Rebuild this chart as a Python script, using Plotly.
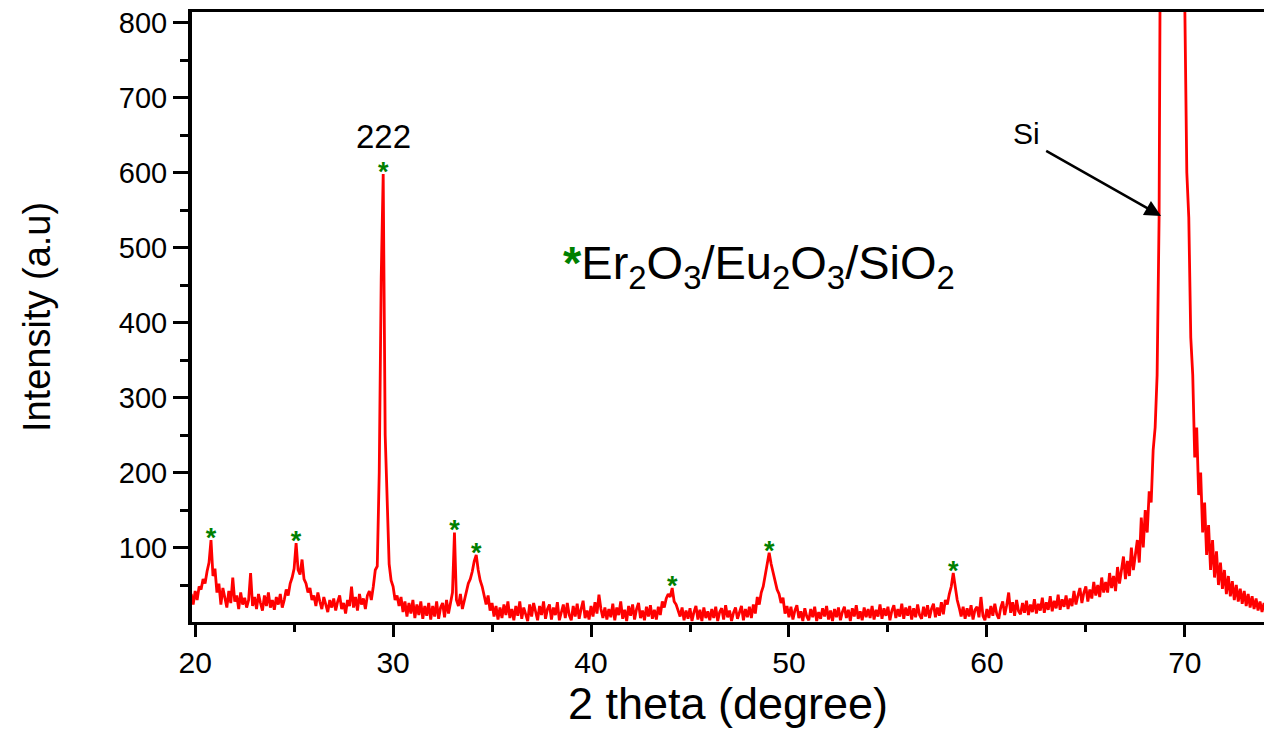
import numpy as np
import plotly.graph_objects as go

# XRD scan: 2-theta grid (start, step) and measured intensity (a.u.)
scan_start = 19.8
scan_step = 0.1
intensity = [
    38, 24,                                          # 19.8-19.9
    42, 30, 48, 44, 58, 52, 68, 80, 110, 62,         # 20
    72, 40, 52, 24, 46, 30, 20, 42, 26, 60,          # 21
    28, 36, 18, 40, 24, 33, 20, 30, 66, 22,          # 22
    34, 18, 38, 26, 16, 36, 22, 40, 20, 30,          # 23
    17, 34, 24, 38, 20, 30, 44, 36, 52, 60,          # 24
    72, 106, 70, 64, 84, 58, 52, 40, 46, 30,         # 25
    36, 22, 40, 28, 18, 34, 24, 14, 30, 20,          # 26
    32, 16, 28, 36, 18, 26, 12, 30, 22, 48,          # 27
    20, 34, 16, 38, 24, 32, 18, 36, 42, 30,          # 28
    48, 70, 75, 200, 460, 598, 250, 150, 78, 56,     # 29
    48, 30, 36, 22, 34, 14, 28, 8, 26, 12,           # 30
    30, 6, 24, 10, 28, 5, 22, 9, 26, 4,              # 31
    22, 8, 28, 5, 20, 26, 7, 30, 12, 26,             # 32
    40, 120, 30, 22, 38, 18, 30, 44, 52, 58,         # 33
    68, 82, 90, 70, 56, 48, 34, 24, 36, 16,          # 34
    26, 8, 22, 4, 20, 6, 24, 10, 28, 6,              # 35
    18, 3, 22, 9, 28, 5, 20, 12, 2, 24,              # 36
    8, 26, 12, 3, 22, 10, 28, 5, 18, 24,             # 37
    4, 20, 10, 27, 3, 16, 24, 6, 26, 10,             # 38
    3, 22, 8, 25, 5, 18, 29, 6, 16, 4,               # 39
    22, 8, 27, 12, 37, 18, 6, 20, 4, 18,             # 40
    7, 25, 3, 20, 10, 28, 5, 17, 2, 22,              # 41
    9, 24, 4, 18, 26, 6, 16, 3, 21, 8,               # 42
    23, 5, 17, 4, 21, 10, 28, 20, 32, 38,            # 43
    34, 46, 28, 24, 16, 8, 20, 3, 16, 5,             # 44
    19, 2, 14, 22, 4, 17, 2, 20, 6, 15,              # 45
    3, 18, 6, 21, 2, 14, 19, 4, 23, 7,               # 46
    16, 2, 13, 20, 5, 15, 22, 3, 18, 7,              # 47
    21, 6, 24, 12, 34, 24, 40, 48, 62, 74,           # 48
    93, 78, 66, 58, 44, 38, 26, 33, 12, 22,          # 49
    7, 21, 4, 16, 23, 6, 15, 2, 19, 8,               # 50
    3, 18, 7, 21, 2, 14, 5, 19, 8, 22,               # 51
    4, 16, 2, 18, 7, 20, 3, 14, 21, 6,               # 52
    17, 2, 19, 8, 23, 5, 15, 3, 20, 7,               # 53
    18, 6, 22, 4, 17, 8, 24, 5, 19, 9,               # 54
    21, 3, 16, 23, 6, 18, 8, 25, 5, 20,              # 55
    9, 22, 4, 19, 7, 24, 10, 5, 21, 8,               # 56
    23, 6, 18, 25, 7, 20, 9, 27, 11, 30,             # 57
    24, 38, 48, 66, 44, 30, 20, 8, 21, 5,            # 58
    19, 8, 23, 4, 17, 21, 7, 34, 9, 3,               # 59
    18, 6, 22, 9, 25, 11, 5, 20, 28, 10,             # 60
    23, 40, 13, 27, 9, 30, 15, 11, 26, 13,           # 61
    29, 10, 24, 14, 31, 12, 25, 16, 33, 13,          # 62
    27, 17, 35, 15, 29, 19, 37, 17, 31, 21,          # 63
    36, 18, 32, 22, 42, 24, 36, 46, 26, 40,          # 64
    48, 28, 44, 32, 54, 36, 50, 34, 60, 40,          # 65
    54, 40, 66, 46, 62, 42, 74, 52, 70, 88,          # 66
    58, 82, 62, 100, 70, 92, 110, 80, 140, 100,      # 67
    150, 120, 175, 160, 230, 260, 330, 540, 1400, 2600,          # 68
    3200, 3500, 3600, 3500, 3300, 3000, 2600, 2000, 1500, 1000,  # 69
    820, 600, 540, 380, 330, 220, 260, 170, 200, 120,  # 70
    160, 90, 130, 70, 110, 60, 95, 50, 80, 45,       # 71
    70, 38, 62, 35, 55, 30, 50, 28, 45, 25,          # 72
    42, 22, 38, 20, 35, 18, 32, 16, 28, 14,          # 73
    26, 14,                                          # 74.0-74.1
]
two_theta = np.round(scan_start + scan_step * np.arange(len(intensity)), 2)

# Reflections of the Er2O3/Eu2O3/SiO2 film marked with an asterisk
marked_peaks = [20.8, 25.1, 29.5, 33.1, 34.2, 44.1, 49.0, 58.3]
peak_heights = [intensity[int(np.argmin(np.abs(two_theta - p)))] for p in marked_peaks]

x_ticks = [20, 30, 40, 50, 60, 70]
y_ticks = [100, 200, 300, 400, 500, 600, 700, 800]

FONT = "Liberation Sans, Arial, sans-serif"

fig = go.Figure()
fig.add_trace(go.Scatter(
    x=two_theta, y=intensity, mode="lines",
    line=dict(color="#ff0000", width=2.8),
    showlegend=False, hoverinfo="skip",
))
fig.add_trace(go.Scatter(
    x=marked_peaks, y=peak_heights, mode="text",
    text=["<b>*</b>"] * len(marked_peaks),
    textposition="middle center",
    textfont=dict(family=FONT, size=27, color="#008000"),
    showlegend=False, hoverinfo="skip", cliponaxis=False,
))

# (222) reflection label
fig.add_annotation(
    x=marked_peaks[2], y=peak_heights[2], text="222",
    showarrow=False, yanchor="bottom", yshift=17,
    font=dict(family=FONT, size=33, color="black"),
)
# phase legend
fig.add_annotation(
    x=48.5, y=476, xref="x", yref="y",
    text=('<span style="color:#008000"><b>*</b></span>'
          'Er<sub>2</sub>O<sub>3</sub>/Eu<sub>2</sub>O<sub>3</sub>/SiO<sub>2</sub>'),
    showarrow=False, xanchor="center", yanchor="middle",
    font=dict(family=FONT, size=47, color="black"),
)
# Si substrate peak
fig.add_annotation(
    x=62.0, y=652, text="Si", showarrow=False,
    font=dict(family=FONT, size=30, color="black"),
)
fig.add_annotation(
    x=68.8, y=542, ax=62.92, ay=630, axref="x", ayref="y",
    text="", showarrow=True, arrowhead=2, arrowsize=1.3,
    arrowwidth=2.5, arrowcolor="black", standoff=0,
)

fig.update_layout(
    width=1264, height=729,
    margin=dict(l=192, r=0, t=12, b=107),
    paper_bgcolor="white", plot_bgcolor="white",
    font=dict(family=FONT, color="black"),
)
fig.update_xaxes(
    range=[19.84, 74.0], tickvals=x_ticks,
    showline=True, linecolor="black", linewidth=3, mirror=True,
    ticks="outside", ticklen=12, tickwidth=3, tickcolor="black",
    minor=dict(dtick=5, tick0=0, ticks="outside", ticklen=7, tickwidth=2.5, tickcolor="black"),
    showgrid=False, zeroline=False,
    tickfont=dict(family=FONT, size=30),
    title=dict(text="2 theta (degree)", font=dict(family=FONT, size=45), standoff=10),
)
fig.update_yaxes(
    range=[0.7, 814], tickvals=y_ticks,
    showline=True, linecolor="black", linewidth=4, mirror=False,
    ticks="outside", ticklen=15, tickwidth=3, tickcolor="black",
    minor=dict(dtick=50, tick0=0, ticks="outside", ticklen=8, tickwidth=2.5, tickcolor="black"),
    showgrid=False, zeroline=False,
    tickfont=dict(family=FONT, size=29),
    title=dict(text="Intensity (a.u)", font=dict(family=FONT, size=38), standoff=58),
)

fig.write_html("out.html")
